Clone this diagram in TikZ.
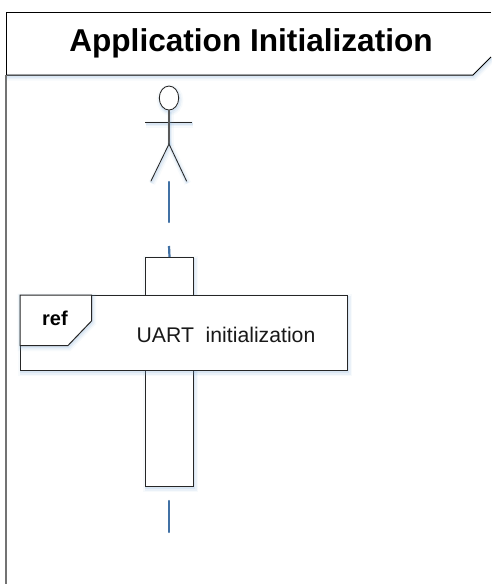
\documentclass[tikz,border=0pt]{standalone}
\usepackage{fontspec}
\setmainfont{Liberation Sans}
\definecolor{lifeblue}{RGB}{65,113,165}
\definecolor{glow}{RGB}{120,170,215}
\tikzset{
  x=1pt,y=-1pt,
  softshadow/.style={preaction={draw=glow,draw opacity=.06,line width=7pt,transform canvas={xshift=1pt,yshift=-2pt}},
    preaction={draw=glow,draw opacity=.10,line width=4pt,transform canvas={xshift=1pt,yshift=-2pt}},
    preaction={draw=glow,draw opacity=.14,line width=2pt,transform canvas={xshift=.5pt,yshift=-1.5pt}}},
  outline/.style={draw=black!85,line width=1pt,line join=miter},
  framepen/.style={draw=black,line width=1pt},
  lifeline/.style={draw=lifeblue,line width=2.2pt,line cap=round},
  limb/.style={draw=black!85,line width=.85pt},
  titletext/.style={font=\fontsize{31.6}{34}\selectfont\bfseries,inner sep=0pt,text=black},
  reftext/.style={font=\fontsize{20}{22}\selectfont\bfseries,inner sep=0pt,text=black},
  bodytext/.style={font=\fontsize{21.2}{24}\selectfont,inner sep=0pt,text=black!90},
}
\begin{document}
\begin{tikzpicture}
\useasboundingbox (0,0) rectangle (491,584);
\fill[white] (0,0) rectangle (491,584);
% frame
\draw[softshadow,framepen] (491,57) -- (473,75) -- (6,75);
\draw[framepen] (491,12.5) -- (6,12.5) -- (6,75);
\draw[draw=black!55,line width=2pt] (6,75) -- (6,584);
\node[titletext] (title) at (251,43) {Application Initialization};
% actor
\coordinate (neck) at (169,110);
\coordinate (hip) at (169,144);
\node[inner sep=0pt] (armL) at (144.5,122) {};
\node[inner sep=0pt] (armR) at (193,122) {};
\node[inner sep=0pt] (footL) at (150.5,182) {};
\node[inner sep=0pt] (footR) at (187,182) {};
\draw[softshadow,limb,fill=white] (169,98) ellipse [x radius=9.7pt,y radius=12pt];
\draw[softshadow,limb] (armL) -- (armR);
\draw[softshadow,limb,draw=black!65,line width=1.2pt] (neck) -- (hip);
\draw[softshadow,limb] (footL) -- (hip) -- (footR);
% lifeline
\coordinate (l1a) at (169,182);
\coordinate (l1b) at (169,222);
\coordinate (l2a) at (169,246);
\coordinate (l3a) at (169,501);
\coordinate (l3b) at (169,532);
\draw[lifeline] (l1a) -- (l1b);
% activation
\node[softshadow,outline,fill=white,minimum width=48pt,minimum height=229pt,inner sep=0pt,anchor=north west] (act) at (145,257) {};
\draw[lifeline,line cap=butt] (l2a) -- (act.north);
\draw[lifeline] (l3a) -- (l3b);
% ref frame
\node[softshadow,outline,fill=white,minimum width=327pt,minimum height=75pt,inner sep=0pt,anchor=north west] (refbox) at (20,295) {};
\draw[softshadow,outline,fill=white] (20,295) -- (91.5,295) -- (91.5,321) -- (68,345.5) -- (20,345.5) -- cycle;
\node[reftext] (reflabel) at (55,318) {ref};
\node[bodytext] (uart) at (226,335) {UART\ \ initialization};
\end{tikzpicture}
\end{document}
